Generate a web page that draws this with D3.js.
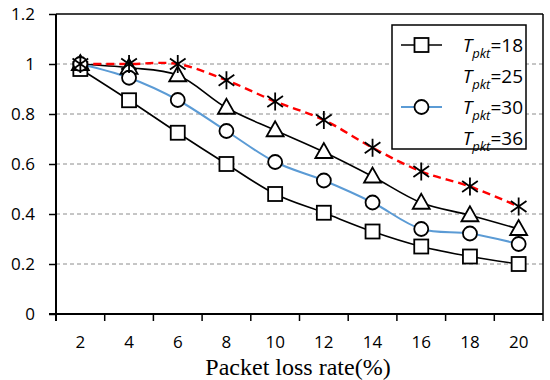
<!DOCTYPE html>
<html>
<head>
<meta charset="utf-8">
<script src="https://cdn.jsdelivr.net/npm/d3@7"></script>
<style>
  body { margin: 0; background: #fff; }
  svg { display: block; }
</style>
</head>
<body>
<svg id="chart" width="550" height="380"></svg>
<script>
// packet loss rate (%) categories
const categories = [2, 4, 6, 8, 10, 12, 14, 16, 18, 20];
const yTicks = [0, 0.2, 0.4, 0.6, 0.8, 1, 1.2];

const t18 = [0.98, 0.855, 0.725, 0.6, 0.48, 0.405, 0.33, 0.27, 0.23, 0.2];
const t25 = [1.0, 0.985, 0.955, 0.825, 0.735, 0.648, 0.55, 0.445, 0.395, 0.34];
const t30 = [1.0, 0.945, 0.856, 0.732, 0.608, 0.534, 0.446, 0.34, 0.322, 0.28];
const t36 = [1.0, 1.0, 1.0, 0.935, 0.85, 0.776, 0.665, 0.57, 0.51, 0.43];

const series = [
  { name: "18", values: t18, marker: "square", color: "#000", width: 1.6, dash: null, legend: true },
  { name: "25", values: t25, marker: "triangle", color: "#000", width: 1.6, dash: null, legend: false },
  { name: "30", values: t30, marker: "circle", color: "#5b9bd5", width: 2, dash: null, legend: true },
  { name: "36", values: t36, marker: "star", color: "#ff0000", width: 2.4, dash: "8,5", legend: false }
];

const margin = { left: 56, right: 7, top: 14, bottom: 66 };
const W = 550, H = 380;
const pw = W - margin.left - margin.right;
const ph = H - margin.top - margin.bottom;

const svg = d3.select("#chart");
const g = svg.append("g").attr("transform", "translate(" + margin.left + "," + margin.top + ")");

const x = d3.scaleBand().domain(categories).range([0, pw]);
const y = d3.scaleLinear().domain([0, 1.2]).range([ph, 0]);
const cx = d => x(d) + x.bandwidth() / 2;

// grid
g.selectAll(".grid")
  .data(yTicks.filter(t => t > 0 && t < 1.2))
  .enter().append("line")
  .attr("x1", 0).attr("x2", pw)
  .attr("y1", d => y(d)).attr("y2", d => y(d))
  .attr("stroke", "#8c8c8c").attr("stroke-width", 1)
  .attr("stroke-dasharray", "4,3");

// frame (top + right)
g.append("line").attr("x1", 0).attr("x2", pw).attr("y1", 0).attr("y2", 0)
  .attr("stroke", "#000").attr("stroke-width", 1.5);
g.append("line").attr("x1", pw).attr("x2", pw).attr("y1", 0).attr("y2", ph)
  .attr("stroke", "#000").attr("stroke-width", 1.5);

// y axis
const yAxis = d3.axisLeft(y).tickValues(yTicks).tickSize(7).tickPadding(14)
  .tickFormat(d => d3.format("~g")(d));
const ya = g.append("g").call(yAxis);
ya.select(".domain").attr("stroke-width", 2).attr("d", "M0," + (ph + 7) + "V0");
ya.selectAll(".tick line").attr("stroke-width", 1.5);
ya.selectAll("text").attr("font-family", "'Open Sans', sans-serif").attr("font-size", 17).attr("fill", "#000");

// x axis (ticks at band edges)
const xa = g.append("g").attr("transform", "translate(0," + ph + ")");
xa.append("line").attr("x1", -7).attr("x2", pw).attr("stroke", "#000").attr("stroke-width", 2);
const edges = d3.range(categories.length + 1).map(i => i * x.step());
xa.selectAll(".xt").data(edges).enter().append("line")
  .attr("x1", d => d).attr("x2", d => d).attr("y1", 0).attr("y2", 7)
  .attr("stroke", "#000").attr("stroke-width", 1.5);
xa.selectAll(".xl").data(categories).enter().append("text")
  .attr("x", d => cx(d)).attr("y", 34)
  .attr("text-anchor", "middle")
  .attr("font-family", "'Open Sans', sans-serif").attr("font-size", 17)
  .text(d => d);

svg.append("text")
  .attr("x", 298).attr("y", 375)
  .attr("text-anchor", "middle")
  .attr("font-family", "'Liberation Serif', 'Times New Roman', serif")
  .attr("font-size", 24)
  .text("Packet loss rate(%)");

// markers
function drawMarker(sel, type, px, py) {
  const s = 7;
  if (type === "square") {
    sel.append("rect").attr("x", px - s).attr("y", py - s).attr("width", 2 * s).attr("height", 2 * s)
      .attr("fill", "#fff").attr("stroke", "#000").attr("stroke-width", 1.8);
  } else if (type === "circle") {
    sel.append("circle").attr("cx", px).attr("cy", py).attr("r", s)
      .attr("fill", "#fff").attr("stroke", "#000").attr("stroke-width", 1.8);
  } else if (type === "triangle") {
    const p = [[px, py - 9], [px - 8.5, py + 6], [px + 8.5, py + 6]];
    sel.append("path").attr("d", "M" + p.join("L") + "Z")
      .attr("fill", "#fff").attr("stroke", "#000").attr("stroke-width", 1.8);
  } else if (type === "star") {
    const r = 9;
    const d = "M" + px + "," + (py - r) + "V" + (py + r) +
      "M" + (px - r * 0.87) + "," + (py - r * 0.6) + "L" + (px + r * 0.87) + "," + (py + r * 0.6) +
      "M" + (px - r * 0.87) + "," + (py + r * 0.6) + "L" + (px + r * 0.87) + "," + (py - r * 0.6);
    sel.append("path").attr("d", d).attr("fill", "none").attr("stroke", "#000").attr("stroke-width", 1.8);
  }
}

const line = d3.line().curve(d3.curveCatmullRom.alpha(0.5))
  .x((d, i) => cx(categories[i])).y(d => y(d));

series.forEach(s => {
  g.append("path").datum(s.values)
    .attr("d", line).attr("fill", "none")
    .attr("stroke", s.color).attr("stroke-width", s.width)
    .attr("stroke-dasharray", s.dash);
});
series.forEach(s => {
  const mg = g.append("g");
  s.values.forEach((v, i) => drawMarker(mg, s.marker, cx(categories[i]), y(v)));
});

// legend
const lg = svg.append("g");
lg.append("rect").attr("x", 392).attr("y", 25).attr("width", 134).attr("height", 124)
  .attr("fill", "#fff").attr("stroke", "#000").attr("stroke-width", 1.5);
series.forEach((s, i) => {
  const ly = 45 + i * 31;
  if (s.legend) {
    lg.append("line").attr("x1", 401).attr("x2", 442).attr("y1", ly).attr("y2", ly)
      .attr("stroke", s.color).attr("stroke-width", s.width);
    drawMarker(lg, s.marker, 421.5, ly);
  }
  const t = lg.append("text").attr("x", 523).attr("y", ly + 7)
    .attr("text-anchor", "end")
    .attr("font-family", "'Open Sans', sans-serif").attr("font-size", 19);
  t.append("tspan").attr("font-style", "italic").text("T");
  t.append("tspan").attr("font-style", "italic").attr("font-size", 13).attr("dy", 6).text("pkt");
  t.append("tspan").attr("dy", -6).text("=" + s.name);
});
</script>
</body>
</html>
